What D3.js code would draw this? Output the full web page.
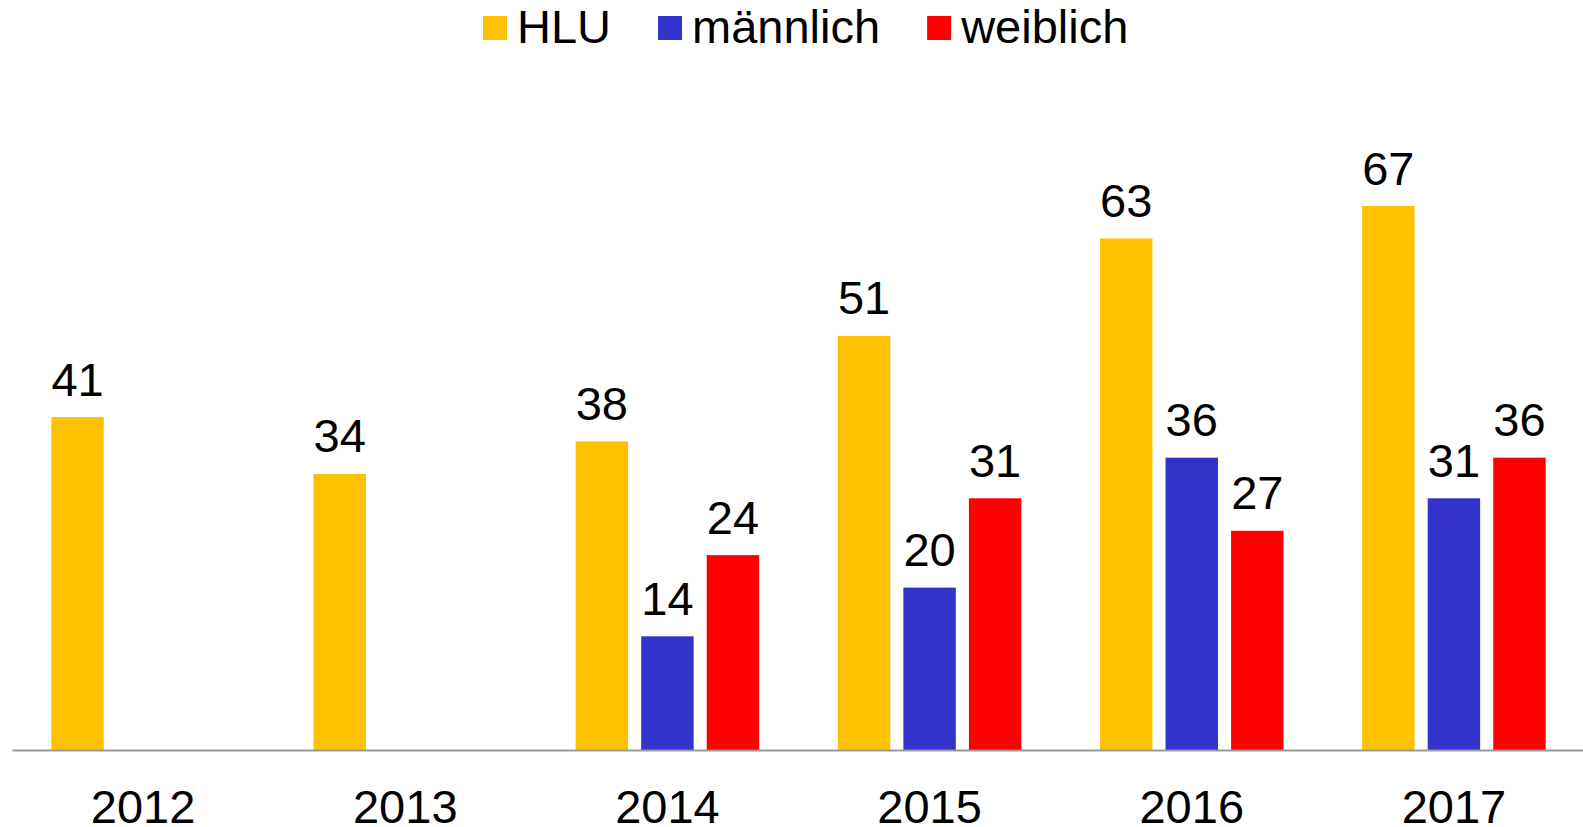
<!DOCTYPE html>
<html>
<head>
<meta charset="utf-8">
<script src="https://cdn.jsdelivr.net/npm/d3@7"></script>
<style>
  html, body { margin: 0; padding: 0; background: #fff; }
  svg { display: block; font-family: "Liberation Sans", Arial, sans-serif; }
</style>
</head>
<body>
<svg id="chart" width="1583" height="827"></svg>
<script>
const years = ["2012", "2013", "2014", "2015", "2016", "2017"];
const seriesNames = ["HLU", "männlich", "weiblich"];
const hluValues = [41, 34, 38, 51, 63, 67];
const maleValues = [null, null, 14, 20, 36, 31];
const femaleValues = [null, null, 24, 31, 27, 36];
const seriesColors = ["#FFC000", "#3333CC", "#FF0000"];

const valuesBySeries = [hluValues, maleValues, femaleValues];

const svg = d3.select("#chart");
const W = 1583, H = 827;

const x0 = d3.scaleBand().domain(years).range([12, 1585]).paddingInner(0).paddingOuter(0);
const x1 = d3.scaleBand().domain(seriesNames).range([0, x0.bandwidth()]).paddingInner(0.2).paddingOuter(0.6);
const y = d3.scaleLinear().domain([0, 67]).range([750, 206]);

const color = d3.scaleOrdinal().domain(seriesNames).range(seriesColors);

const rows = [];
years.forEach((yr, i) => {
  seriesNames.forEach((s, j) => {
    const v = valuesBySeries[j][i];
    if (v !== null && v !== undefined) rows.push({ year: yr, series: s, value: v });
  });
});

// bars
svg.append("g").selectAll("rect").data(rows).join("rect")
  .attr("x", d => x0(d.year) + x1(d.series))
  .attr("y", d => y(d.value))
  .attr("width", x1.bandwidth())
  .attr("height", d => y(0) - y(d.value))
  .attr("fill", d => color(d.series));

// value labels
svg.append("g").selectAll("text").data(rows).join("text")
  .attr("x", d => x0(d.year) + x1(d.series) + x1.bandwidth() / 2)
  .attr("y", d => y(d.value) - 21.5)
  .attr("text-anchor", "middle")
  .attr("font-size", 47)
  .attr("fill", "#000")
  .text(d => d.value);

// x axis
const xAxis = d3.axisBottom(x0).tickSize(0).tickPadding(0);
const axisG = svg.append("g").attr("transform", `translate(0,${y(0)})`).call(xAxis);
axisG.select(".domain").attr("stroke", "#999999").attr("stroke-width", 2);
axisG.selectAll(".tick text")
  .attr("font-size", 47)
  .attr("font-family", "Liberation Sans, Arial, sans-serif")
  .attr("fill", "#000")
  .attr("dy", null)
  .attr("y", 73);

// legend
const legend = svg.append("g");
let lx = 483;
seriesNames.forEach((s, i) => {
  legend.append("rect")
    .attr("x", lx).attr("y", 16).attr("width", 24).attr("height", 24)
    .attr("fill", color(s));
  const t = legend.append("text")
    .attr("x", lx + 34).attr("y", 43)
    .attr("font-size", 47).attr("fill", "#000")
    .text(s);
  const w = t.node().getComputedTextLength();
  lx = lx + 34 + w + 47;
});
</script>
</body>
</html>
